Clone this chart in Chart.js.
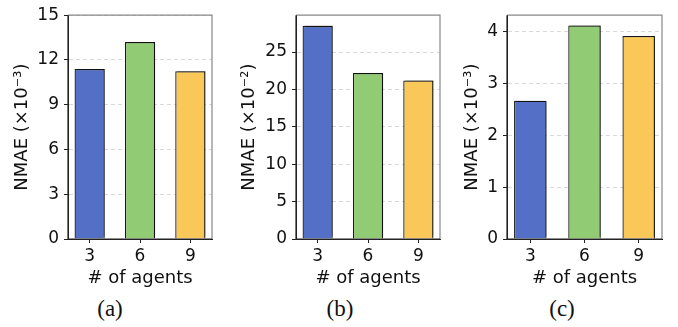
<!DOCTYPE html>
<html>
<head>
<meta charset="utf-8">
<script src="https://cdn.jsdelivr.net/npm/chart.js@4.4.1/dist/chart.umd.min.js"></script>
<style>
  html, body { margin: 0; padding: 0; background: #fff; }
  #wrap { position: relative; width: 678px; height: 327px; overflow: hidden; background: #fff; }
  canvas { position: absolute; top: 0; }
  .cap { position: absolute; top: 296px; width: 60px; text-align: center;
         font-family: "Liberation Serif", "DejaVu Serif", serif; font-size: 23px; color: #111; }
</style>
</head>
<body>
<div id="wrap">
  <canvas id="ca" width="226" height="289" style="left:0px"></canvas>
  <canvas id="cb" width="226" height="289" style="left:226px"></canvas>
  <canvas id="cc" width="226" height="289" style="left:452px"></canvas>
  <div class="cap" style="left:80px">(a)</div>
  <div class="cap" style="left:310px">(b)</div>
  <div class="cap" style="left:532px">(c)</div>
</div>
<script>
// ---- data ----
const categories = ["3", "6", "9"];
const valuesA = [11.4, 13.2, 11.25];
const valuesB = [28.5, 22.2, 21.2];
const valuesC = [2.67, 4.12, 3.92];
const yTicksA = [0, 3, 6, 9, 12, 15];
const yTicksB = [0, 5, 10, 15, 20, 25];
const yTicksC = [0, 1, 2, 3, 4];
const yTitleA = "NMAE (×10⁻³)";
const yTitleB = "NMAE (×10⁻²)";
const yTitleC = "NMAE (×10⁻³)";
const xTitle = "# of agents";
const barColors = ["#5470c6", "#91cc75", "#fac858"];

const FONT = "'DejaVu Sans', sans-serif";
const H = 289;

const framePlugin = {
  id: 'frame',
  beforeDatasetsDraw(chart) {
    const ctx = chart.ctx;
    ctx.save();
    ctx.shadowColor = 'rgba(0,0,0,0.35)';
    ctx.shadowOffsetX = 2;
    ctx.shadowOffsetY = -2;
    ctx.shadowBlur = 1;
  },
  afterDatasetsDraw(chart) {
    const ctx = chart.ctx;
    ctx.restore();
    const a = chart.chartArea;
    ctx.save();
    ctx.lineWidth = 1.2;
    ctx.strokeStyle = '#888';
    ctx.beginPath();
    ctx.moveTo(a.left, a.top); ctx.lineTo(a.right, a.top); ctx.lineTo(a.right, a.bottom);
    ctx.stroke();
    ctx.strokeStyle = '#222';
    ctx.beginPath();
    ctx.moveTo(a.left, a.top); ctx.lineTo(a.left, a.bottom); ctx.lineTo(a.right, a.bottom);
    ctx.stroke();
    ctx.restore();
  }
};

function makeChart(id, values, yMax, yTicks, yTitle, cfg) {
  return new Chart(document.getElementById(id), {
    type: 'bar',
    data: {
      datasets: [{
        data: values.map((v, i) => ({ x: i, y: v })),
        backgroundColor: barColors,
        borderColor: '#1a1a1a',
        borderWidth: 1.3,
        barPercentage: 0.6,
        categoryPercentage: 1.0
      }]
    },
    plugins: [framePlugin],
    options: {
      responsive: false,
      animation: false,
      devicePixelRatio: 1,
      layout: { padding: { top: cfg.top, right: cfg.right, left: 0, bottom: 0 } },
      plugins: { legend: { display: false }, tooltip: { enabled: false } },
      scales: {
        x: {
          type: 'linear',
          min: -0.43, max: 2.43,
          offset: false,
          afterBuildTicks: s => { s.ticks = categories.map((c, i) => ({ value: i })); },
          afterFit: s => { s.height = H - 239; },
          ticks: {
            callback: v => categories[v],
            color: '#111',
            font: { family: FONT, size: 17 },
            padding: 3,
            maxRotation: 0,
            autoSkip: false
          },
          grid: { drawOnChartArea: false, drawTicks: true, tickLength: 4, tickColor: '#222', offset: false },
          border: { display: true, color: '#222', width: 1 },
          title: { display: true, text: xTitle, color: '#111', font: { family: FONT, size: 18 }, padding: 0 }
        },
        y: {
          min: 0, max: yMax,
          afterBuildTicks: s => { s.ticks = yTicks.map(v => ({ value: v })); },
          afterFit: s => { s.width = cfg.yw; },
          ticks: { color: '#111', font: { family: FONT, size: 17 }, padding: 5 },
          grid: { color: '#d9d9d9', lineWidth: 1, drawTicks: true, tickLength: 4, tickColor: '#222' },
          border: { display: true, color: '#222', width: 1, dash: [4, 3] },
          title: { display: true, text: yTitle, color: '#111', font: { family: FONT, size: 18 }, padding: { top: cfg.tp, bottom: 0 } }
        }
      }
    }
  });
}

makeChart('ca', valuesA, 15, yTicksA, yTitleA, { top: 11, right: 14, yw: 68, tp: 12 });
makeChart('cb', valuesB, 29.925, yTicksB, yTitleB, { top: 5, right: 12, yw: 70, tp: 13 });
makeChart('cc', valuesC, 4.32, yTicksC, yTitleC, { top: 5, right: 16, yw: 55, tp: 10 });
</script>
</body>
</html>
